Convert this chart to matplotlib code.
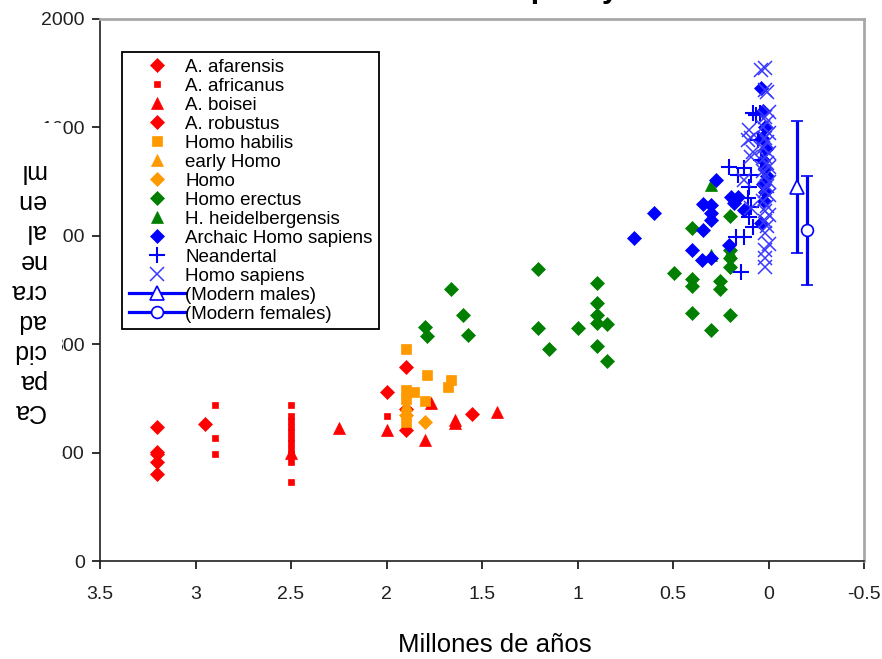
import matplotlib
matplotlib.use("Agg")
import matplotlib.pyplot as plt
from matplotlib.lines import Line2D
from matplotlib.patches import Rectangle

plt.rcParams['font.family'] = ['Liberation Sans', 'DejaVu Sans']

# ---------------------------------------------------------------
#   data (million years ago, cc)
# ---------------------------------------------------------------
afarensis_x = [3.2, 3.2, 3.2, 3.2, 3.2, 2.95]
afarensis_y = [495, 402, 395, 365, 320, 505]

africanus_x = [2.9, 2.9, 2.9, 2.5, 2.5, 2.5, 2.5, 2.5, 2.5, 2.5, 2.5, 2.5, 2.5, 2.5, 2.0]
africanus_y = [576, 454, 395, 576, 535, 515, 495, 475, 455, 435, 415, 395, 365, 292, 535]

boisei_x = [2.5, 2.25, 2.0, 1.8, 1.765, 1.64, 1.64, 1.42]
boisei_y = [400, 490, 483, 446, 583, 509, 520, 550]

robustus_x = [2.0, 1.9, 1.9, 1.9, 1.55]
robustus_y = [624, 716, 483, 560, 542]

habilis_x = [1.9, 1.79, 1.66, 1.68, 1.9, 1.855, 1.8, 1.9, 1.9]
habilis_y = [782, 686, 668, 642, 631, 624, 590, 598, 513]

early_homo_x = [1.9, 1.9]
early_homo_y = [576, 557]

homo_x = [1.8, 1.9]
homo_y = [513, 540]

erectus_x = [1.60, 1.80, 1.786, 1.575, 1.66, 1.207, 1.207, 1.149, 1.00, 0.896, 0.896,
             0.896, 0.896, 0.848, 0.896, 0.843, 0.40, 0.20, 0.495, 0.40, 0.40, 0.253,
             0.253, 0.40, 0.20, 0.30, 0.20, 0.20, 0.20]
erectus_y = [908, 864, 830, 834, 1004, 1077, 860, 782, 860, 1026, 952,
             908, 878, 875, 793, 738, 1229, 1273, 1063, 1041, 1015, 1033,
             1004, 915, 908, 852, 1085, 1148, 1118]

heidel_x = [0.30, 0.30, 0.20]
heidel_y = [1387, 1129, 1140]

archaic_x = [0.706, 0.60, 0.342, 0.30, 0.30, 0.30, 0.342, 0.40, 0.348, 0.30, 0.274,
             0.195, 0.179, 0.158, 0.205, 0.126, 0.037, 0.037,
             0.03, 0.02, 0.035, 0.015, 0.03, 0.02, 0.01, 0.03, 0.02, 0.025]
archaic_y = [1192, 1284, 1317, 1314, 1284, 1258, 1221, 1148, 1111, 1118, 1406,
             1343, 1321, 1343, 1166, 1295, 1247, 1745,
             1660, 1600, 1560, 1520, 1480, 1450, 1420, 1390, 1360, 1330]

neander_x = [0.205, 0.158, 0.126, 0.09, 0.10, 0.105, 0.09, 0.10, 0.079, 0.169, 0.126,
             0.142, 0.063, 0.053, 0.037, 0.047, 0.08]
neander_y = [1454, 1424, 1450, 1424, 1380, 1339, 1306, 1269, 1232, 1196, 1196,
             1066, 1646, 1553, 1480, 1653, 1653]

sapiens_x = [0.02, 0.02, 0.037, 0.01, 0.0, 0.02, 0.01, 0.03, 0.0, 0.02, 0.01, 0.03,
             0.0, 0.02, 0.01, 0.0, 0.03, 0.02, 0.0, 0.01, 0.02, 0.0, 0.03, 0.01, 0.02,
             0.0, 0.02, 0.01, 0.02, 0.0, 0.02, 0.02, 0.02,
             0.10, 0.09, 0.09, 0.126, 0.105, 0.079, 0.09]
sapiens_y = [1819, 1738, 1812, 1730, 1657, 1640, 1620, 1600, 1580, 1560, 1545, 1525,
             1505, 1490, 1470, 1455, 1440, 1420, 1400, 1385, 1365, 1350, 1330, 1310, 1290,
             1275, 1255, 1235, 1210, 1170, 1148, 1118, 1085,
             1590, 1561, 1491, 1406, 1553, 1509, 1303]

males_x, males_y, males_err = -0.15, 1380, 245
females_x, females_y, females_err = -0.20, 1220, 200

xticks = [3.5, 3, 2.5, 2, 1.5, 1, 0.5, 0, -0.5]
xtick_labels = ['3.5', '3', '2.5', '2', '1.5', '1', '0.5', '0', '-0.5']
yticks = [0, 400, 800, 1200, 1600, 2000]

RED = '#ff0000'
ORANGE = '#ff9900'
GREEN = '#007f00'
BLUE = '#0000ff'

fig = plt.figure(figsize=(8.82, 6.59), dpi=100)
ax = fig.add_axes([0.1134, 0.1487, 0.8662, 0.8225])

series = [
    (afarensis_x, afarensis_y, 'D', RED, 7, 'A. afarensis'),
    (africanus_x, africanus_y, 's', RED, 4, 'A. africanus'),
    (boisei_x, boisei_y, '^', RED, 8.5, 'A. boisei'),
    (robustus_x, robustus_y, 'D', RED, 7, 'A. robustus'),
    (habilis_x, habilis_y, 's', ORANGE, 7, 'Homo habilis'),
    (early_homo_x, early_homo_y, '^', ORANGE, 8.5, 'early Homo'),
    (homo_x, homo_y, 'D', ORANGE, 7, 'Homo'),
    (erectus_x, erectus_y, 'D', GREEN, 7, 'Homo erectus'),
    (heidel_x, heidel_y, '^', GREEN, 8.5, 'H. heidelbergensis'),
    (archaic_x, archaic_y, 'D', BLUE, 7, 'Archaic Homo sapiens'),
]

handles = []
for xs, ys, mk, col, ms, lab in series:
    h, = ax.plot(xs, ys, linestyle='none', marker=mk, color=col, markersize=ms,
                 markeredgewidth=0.5, label=lab)
    handles.append(h)

h, = ax.plot(neander_x, neander_y, linestyle='none', marker='+', color=BLUE,
             markersize=11, markeredgewidth=1.5, label='Neandertal')
handles.append(h)
h, = ax.plot(sapiens_x, sapiens_y, linestyle='none', marker='x', color='#3a3aff',
             markersize=10.5, markeredgewidth=1.1, label='Homo sapiens')
handles.append(h)

ax.errorbar([males_x], [males_y], yerr=[males_err], fmt='^', color=BLUE, ecolor=BLUE,
            elinewidth=2.3, capsize=4, capthick=2.3, markersize=10,
            markerfacecolor='white', markeredgecolor=BLUE, markeredgewidth=1.2)
ax.errorbar([females_x], [females_y], yerr=[females_err], fmt='o', color=BLUE, ecolor=BLUE,
            elinewidth=2.3, capsize=4, capthick=2.3, markersize=8.5,
            markerfacecolor='white', markeredgecolor=BLUE, markeredgewidth=1.2)

handles.append(Line2D([], [], color=BLUE, lw=2.3, marker='^', markersize=10,
                      markerfacecolor='white', markeredgewidth=1.2, label='(Modern males)'))
handles.append(Line2D([], [], color=BLUE, lw=2.3, marker='o', markersize=8.5,
                      markerfacecolor='white', markeredgewidth=1.2, label='(Modern females)'))

ax.set_xlim(3.5, -0.5)
ax.set_ylim(0, 2000)
ax.set_xticks(xticks)
ax.set_xticklabels(xtick_labels)
ax.set_yticks(yticks)
ax.tick_params(axis='both', direction='out', length=6, width=1.3, colors='#202020',
               labelsize=14)
ax.tick_params(axis='x', pad=12)
ax.tick_params(axis='y', pad=5)

ax.spines['left'].set_color('#202020')
ax.spines['bottom'].set_color('#202020')
ax.spines['left'].set_linewidth(1.2)
ax.spines['bottom'].set_linewidth(1.2)
ax.spines['top'].set_color('#a8a8a8')
ax.spines['right'].set_color('#a8a8a8')
ax.spines['top'].set_linewidth(2)
ax.spines['right'].set_linewidth(2)

leg = fig.legend(handles=handles, loc='upper left',
                 bbox_to_anchor=(122 / 882, 1 - 52 / 659), borderaxespad=0,
                 fontsize=13.5, labelspacing=0.1, handlelength=3.0,
                 handletextpad=0.02, borderpad=0.35, fancybox=False,
                 edgecolor='black', framealpha=1, numpoints=1)
leg.get_frame().set_linewidth(1.3)

# white block that hides the left part of the y tick labels, as in the original
fig.add_artist(Rectangle((0, 1 - 475 / 659), 62 / 882, (475 - 123) / 659,
                         transform=fig.transFigure, facecolor='white',
                         edgecolor='none', zorder=3))

ylabel = "Ca\npa\ncid\nad\ncra\nne\nal\nen\nml"
fig.text(45 / 882, 1 - 291 / 659, ylabel, rotation=180, ha='right', va='center',
         multialignment='left', fontsize=18, linespacing=1.31, zorder=4)

fig.text(495 / 882, 1 - 645 / 659, 'Millones de años', ha='center', va='center',
         fontsize=18.5)

# title sits above the canvas, only descenders show
fig.text(502 / 882, 1 + 3 / 659, 'Cranial capacity', ha='center', va='baseline',
         fontsize=22, fontweight='bold')

fig.savefig('out.png', dpi=100)
